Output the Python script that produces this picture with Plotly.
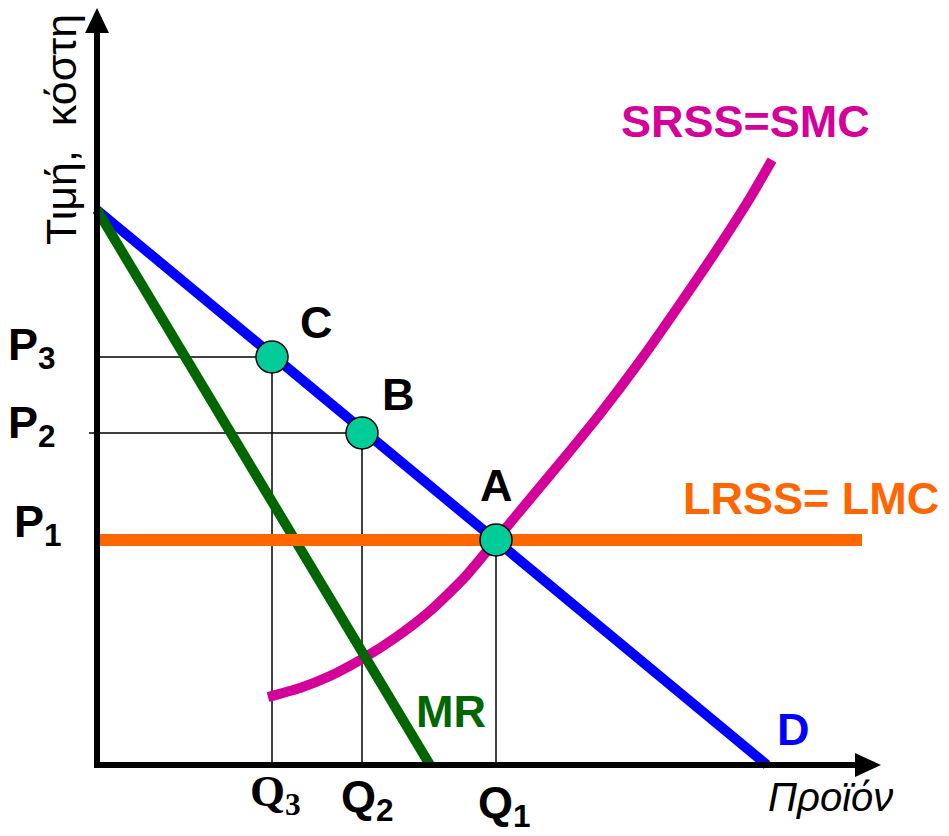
import plotly.graph_objects as go

# ---------------- data (diagram units: origin at the axes corner) ----------------
demand_q = [0, 670]
demand_p = [555, 0]
mr_q = [0, 333]
mr_p = [555, 0]
smc_q = [171, 203, 233, 265, 298, 333, 368, 399, 433, 468, 503, 543, 583, 623, 653, 675]
smc_p = [68, 77, 89, 106, 127, 154, 188, 225, 266, 308, 351, 404, 461, 520, 567, 605]
lrss_q = [0, 765]
lrss_p = [225, 225]
point_names = ["A", "B", "C"]
point_q = [399, 265, 175]
point_p = [225, 332, 408]
price_labels = ["P<sub>1</sub>", "P<sub>2</sub>", "P<sub>3</sub>"]
qty_labels = ["Q<sub>1</sub>", "Q<sub>2</sub>", "Q<sub>3</sub>"]

W, H = 949, 836
OX, OY = 97, 765          # pixel position of the origin
FONT = "Liberation Sans, Arial, sans-serif"

MAGENTA = "#D4009A"
BLUE = "#0000FF"
GREEN = "#006600"
ORANGE = "#FF6600"
TEAL = "#00CC99"


def px(x, y):
    """pixel -> diagram coordinates"""
    return x - OX, OY - y


fig = go.Figure()

# thin guide lines to the axes
for q, p in zip(point_q, point_p):
    fig.add_trace(go.Scatter(x=[-8 if p == 332 else 0, q], y=[p, p], mode="lines",
                             line=dict(color="black", width=1.5), hoverinfo="skip"))
    fig.add_trace(go.Scatter(x=[q, q], y=[0, p], mode="lines",
                             line=dict(color="black", width=1.5), hoverinfo="skip"))

# curves
fig.add_trace(go.Scatter(x=demand_q, y=demand_p, mode="lines",
                         line=dict(color=BLUE, width=10), hoverinfo="skip"))
fig.add_trace(go.Scatter(x=smc_q, y=smc_p, mode="lines",
                         line=dict(color=MAGENTA, width=10, shape="spline", smoothing=0.6),
                         hoverinfo="skip"))
fig.add_trace(go.Scatter(x=mr_q, y=mr_p, mode="lines",
                         line=dict(color=GREEN, width=10), hoverinfo="skip"))
fig.add_trace(go.Scatter(x=lrss_q, y=lrss_p, mode="lines",
                         line=dict(color=ORANGE, width=12), hoverinfo="skip"))
fig.add_trace(go.Scatter(x=point_q, y=point_p, mode="markers",
                         marker=dict(size=32, color=TEAL, line=dict(color="black", width=1.5)),
                         hoverinfo="skip"))

shapes = []
# axes
shapes.append(dict(type="line", xref="x", yref="y", x0=0, y0=-3, x1=0, y1=px(0, 30)[1],
                   line=dict(color="black", width=6)))
shapes.append(dict(type="line", xref="x", yref="y", x0=-3, y0=0, x1=px(858, 0)[0], y1=0,
                   line=dict(color="black", width=6)))
# arrow heads
tx, ty = px(97, 8)
bx, by = px(97, 33)
shapes.append(dict(type="path", xref="x", yref="y",
                   path=f"M {tx-0.001},{ty} L {bx-12},{by} L {bx+12},{by} Z",
                   fillcolor="black", line=dict(color="black", width=0)))
tx, ty = px(881, 765)
bx, by = px(855, 765)
shapes.append(dict(type="path", xref="x", yref="y",
                   path=f"M {tx},{ty} L {bx},{by+12} L {bx},{by-12} Z",
                   fillcolor="black", line=dict(color="black", width=0)))

ann = []


def label(text, x, y, size, color="black", bold=True, italic=False, angle=0,
          family=FONT, xanchor="center", yanchor="middle"):
    qx, qy = px(x, y)
    ann.append(dict(x=qx, y=qy, xref="x", yref="y", text=text, showarrow=False,
                    textangle=angle, xanchor=xanchor, yanchor=yanchor,
                    font=dict(family=family, size=size, color=color,
                              weight="bold" if bold else "normal",
                              style="italic" if italic else "normal")))


label("Τιμή,  κόστη", 61, 130, 43, bold=False, angle=-90)
label("Προϊόν", 830, 797, 40, bold=False, italic=True)
label("SRSS=SMC", 745, 121, 45, color=MAGENTA)
label("LRSS= LMC", 811, 498, 45, color=ORANGE)
label("D", 793, 729, 45, color=BLUE)
label("MR", 451, 711, 45, color=GREEN)

# point names
name_pos = {"A": (496, 485), "B": (398, 394), "C": (316, 322)}
for n in point_names:
    label(n, *name_pos[n], 45)

# price tick labels, placed at their levels
p_off = [(38, -16), (32, -8), (32, -10)]
for t, p, (xx, dy) in zip(price_labels, point_p, p_off):
    label(t, xx, OY - p + dy, 45)

# quantity tick labels
q_off = [(8, 40), (5, 34), (3, 29)]
fams = [FONT, FONT, "Liberation Serif, Times New Roman, serif"]
for t, q, (dx, yy), fam in zip(qty_labels, point_q, q_off, fams):
    label(t, OX + q + dx, OY + yy, 45, family=fam)

fig.update_layout(
    width=W, height=H,
    margin=dict(l=0, r=0, t=0, b=0),
    paper_bgcolor="white", plot_bgcolor="white",
    showlegend=False,
    xaxis=dict(range=[-OX, W - OX], visible=False, fixedrange=True),
    yaxis=dict(range=[OY - H, OY], visible=False, fixedrange=True),
    shapes=shapes, annotations=ann,
)

fig.write_html("out.html", config={"displayModeBar": False},
               post_script="document.body.style.margin='0';document.body.style.overflow='hidden';")
